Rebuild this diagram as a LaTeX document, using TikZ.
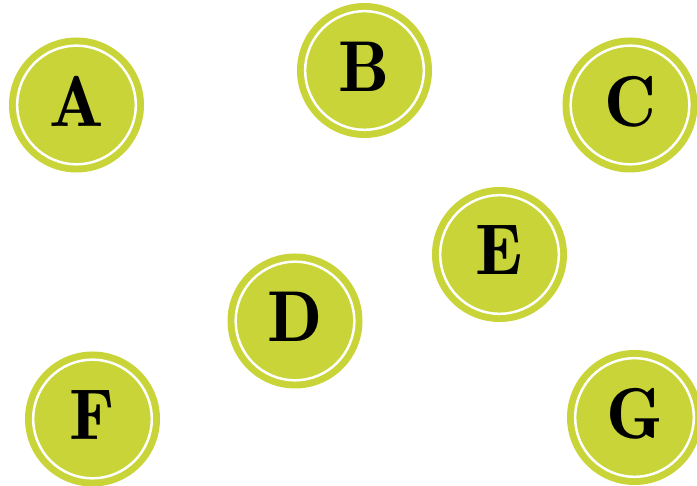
\documentclass[tikz,border=0pt]{standalone}
\definecolor{olivegreen}{RGB}{200,212,56}
\tikzset{
  ball/.style={circle, fill=olivegreen, minimum size=135pt, inner sep=0pt,
    font=\fontsize{72}{72}\fontseries{b}\selectfont, text depth=8pt,
    path picture={\draw[white,line width=2.5pt] (path picture bounding box.center) circle (59.3pt);}}
}
\begin{document}
\begin{tikzpicture}[x=1pt,y=1pt]
\useasboundingbox (0,0) rectangle (697,486);
\node[ball] (A) at (76.5,381) {A};
\node[ball] (B) at (364.5,415.5) {B};
\node[ball] (C) at (630,381) {C};
\node[ball] (D) at (295,165) {D};
\node[ball] (E) at (499.5,231.5) {E};
\node[ball] (F) at (92.5,67) {F};
\node[ball] (G) at (634.5,68.5) {G};
\end{tikzpicture}
\end{document}
